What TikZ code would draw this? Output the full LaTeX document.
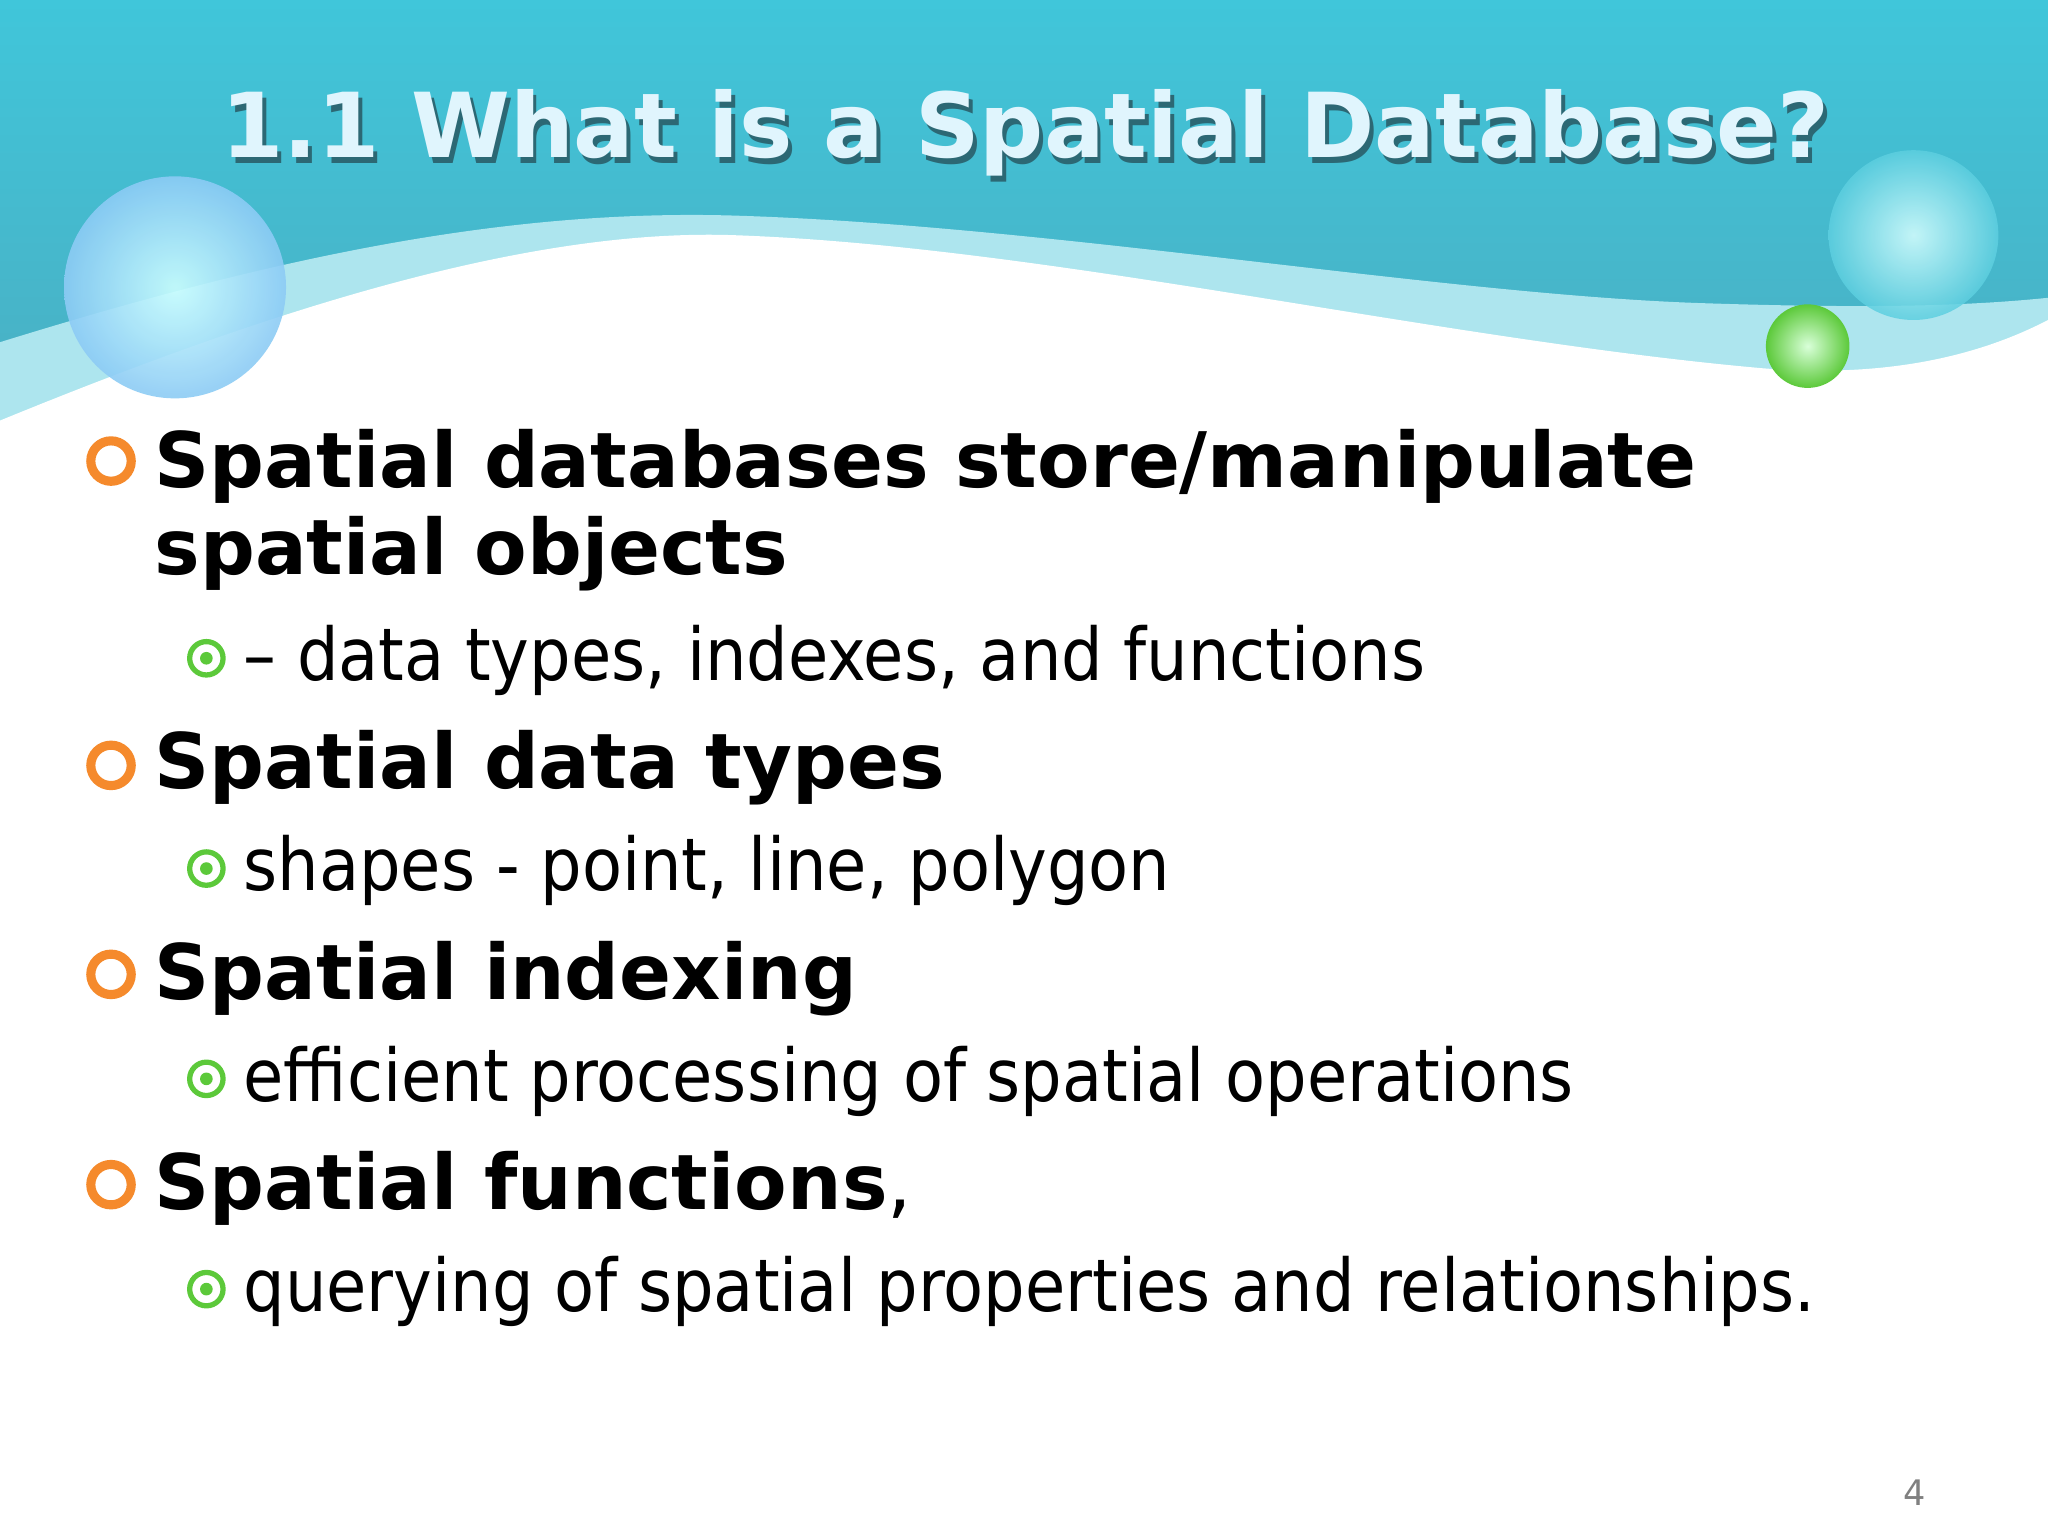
\documentclass[tikz,border=0pt]{standalone}
\usepackage{fontspec}
\setmainfont{DejaVu Sans}
\newfontfamily\subfont{DejaVu Sans Condensed}
\usetikzlibrary{shadings}
\definecolor{tealtop}{HTML}{40C6DA}
\definecolor{tealbot}{HTML}{4AAEC2}
\definecolor{band}{HTML}{ADE5EE}
\definecolor{orng}{HTML}{F58A2C}
\definecolor{grn}{HTML}{5CC93A}
\definecolor{bluebub}{HTML}{8CCBF5}
\tikzset{
  main/.style={anchor=base west,inner sep=0pt,font=\fontsize{21.8}{26}\selectfont\bfseries},
  sub/.style={anchor=base west,inner sep=0pt,font=\subfont\fontsize{20.7}{25}\selectfont},
  ring/.style={circle,draw=orng,line width=2.6pt,minimum size=11.5pt,inner sep=0pt},
  gring/.style={circle,draw=grn,line width=1.5pt,minimum size=9.5pt,inner sep=0pt,
     append after command={node[circle,fill=grn,minimum size=3.6pt,inner sep=0pt] at (\tikzlastnode.center){}}},
}
\begin{document}
\begin{tikzpicture}[x=0.013061cm,y=-0.013061cm]
\useasboundingbox (0,0) rectangle (1568,1176);
\fill[white] (0,0) rectangle (1568,1176);
% header
\shade[top color=tealtop,bottom color=tealbot] (0,0) rectangle (1568,330);
\fill[band] (0,262) .. controls (200,200) and (380,160) .. (560,165)
  .. controls (800,172) and (1100,225) .. (1300,232)
  .. controls (1420,236) and (1500,235) .. (1568,228) -- (1568,400) -- (0,400) -- cycle;
\fill[white] (0,322) .. controls (200,240) and (400,175) .. (560,180)
  .. controls (800,188) and (1100,260) .. (1350,282)
  .. controls (1450,290) and (1520,270) .. (1568,245) -- (1568,420) -- (0,420) -- cycle;
% bubbles
\shade[inner color=white!80!cyan,outer color=bluebub,opacity=0.9] (134,220) circle (85);
\shade[inner color=white!85!cyan,outer color=tealtop!85!white,opacity=0.85] (1465,180) circle (65);
\shade[inner color=green!15!white,outer color=grn] (1384,265) circle (32);
% title
\node[font=\fontsize{25.5}{30}\selectfont\bfseries,text=black!40!tealbot,inner sep=0pt] (tsh) at (788,106) {1.1 What is a Spatial Database?};
\node[font=\fontsize{25.5}{30}\selectfont\bfseries,text=white!88!cyan,inner sep=0pt] (title) at (785,102) {1.1 What is a Spatial Database?};
% bullets
\node[ring] (b1) at (85,353) {};
\node[main] (t1) at (118,373) {Spatial databases store/manipulate};
\node[main] (t1b) at (118,440) {spatial objects};
\node[gring] (s1) at (158,504) {};
\node[sub] (u1) at (186,521) {– data types, indexes, and functions};
\node[ring] (b2) at (85,586) {};
\node[main] (t2) at (118,604) {Spatial data types};
\node[gring] (s2) at (158,665) {};
\node[sub] (u2) at (186,682) {shapes - point, line, polygon};
\node[ring] (b3) at (85,746) {};
\node[main] (t3) at (118,765) {Spatial indexing};
\node[gring] (s3) at (158,826) {};
\node[sub] (u3) at (186,843) {efficient processing of spatial operations};
\node[ring] (b4) at (85,907) {};
\node[main] (t4) at (118,926) {Spatial functions\mdseries,};
\node[gring] (s4) at (158,987) {};
\node[sub] (u4) at (186,1004) {querying of spatial properties and relationships.};
\node[font=\fontsize{10}{12}\selectfont,text=gray] (pg) at (1466,1143) {4};
\end{tikzpicture}
\end{document}
